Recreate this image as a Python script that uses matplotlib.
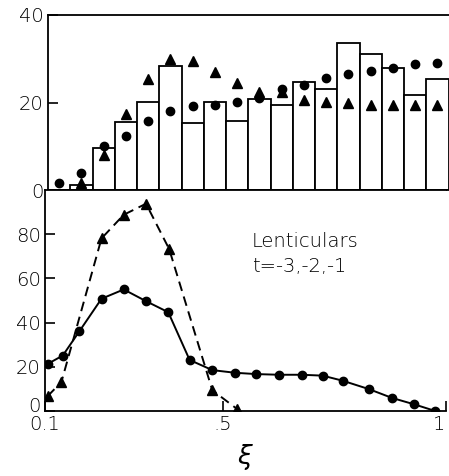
import numpy as np
import matplotlib
matplotlib.use('Agg')
import matplotlib.pyplot as plt
import matplotlib.transforms as mtransforms

# top panel: histogram bins (xi) and the two point series
bin_left = [0.10, 0.15, 0.20, 0.25, 0.30, 0.35, 0.40, 0.45, 0.50,
            0.55, 0.60, 0.65, 0.70, 0.75, 0.80, 0.85, 0.90, 0.95]
bin_height = [0, 1.2, 9.7, 15.6, 20.1, 28.4, 15.3, 20.2, 15.8,
              20.9, 19.4, 24.8, 23.1, 33.6, 31.0, 27.9, 21.7, 25.4]
top_dots = [1.7, 3.9, 10.0, 12.4, 15.8, 18.1, 19.2, 19.5, 20.1,
            21.0, 23.0, 24.1, 25.6, 26.6, 27.3, 28.0, 28.9, 29.1]
top_tri = [np.nan, 1.6, 8.0, 17.4, 25.3, 29.9, 29.5, 27.0, 24.5,
           22.5, 22.3, 20.5, 20.2, 20.0, 19.4, 19.4, 19.4, 19.4]

# bottom panel: solid curve (circles) and dashed curve (triangles)
xi_dots = [0.106, 0.14, 0.177, 0.227, 0.277, 0.327, 0.377, 0.425, 0.476, 0.527,
           0.575, 0.626, 0.677, 0.724, 0.769, 0.828, 0.88, 0.93, 0.977]
val_dots = [21.3, 25.1, 36.0, 50.8, 55.0, 49.7, 44.7, 23.1, 18.5, 17.3,
            16.7, 16.4, 16.4, 16.0, 13.7, 9.9, 5.9, 3.0, 0.0]
xi_tri = [0.106, 0.137, 0.227, 0.277, 0.327, 0.379, 0.476, 0.531]
val_tri = [6.7, 13.2, 78.1, 88.8, 93.8, 73.3, 9.4, 1.0]

label_font = dict(family='DejaVu Sans', fontsize=14, fontweight='light')

W, H = 449, 476
fig = plt.figure(figsize=(W / 100, H / 100), dpi=100)

# axes placed in pixels to follow the reference layout
ax1 = fig.add_axes([48 / W, 1 - 190 / H, 400.5 / W, 175 / H])
ax2 = fig.add_axes([45 / W, 1 - 411 / H, 400.5 / W, 221 / H])

centers = np.array(bin_left) + 0.025
ax1.bar(bin_left, bin_height, width=0.05, align='edge', facecolor='white',
        edgecolor='black', linewidth=1.3, zorder=2)
ax1.plot(centers, top_dots, 'o', color='black', markersize=6, zorder=3)
ax1.plot(centers, top_tri, '^', color='black', markersize=6.5, zorder=3)
ax1.set_xlim(0.1, 1.0)
ax1.set_ylim(0, 40)
ax1.set_yticks([0, 20, 40])
ax1.set_yticklabels(['0', '20', '40'], **label_font)
ax1.set_xticks([])
ax1.spines['right'].set_visible(False)
for s in ['top', 'left', 'bottom']:
    ax1.spines[s].set_linewidth(1.3)
ax1.tick_params(axis='y', direction='in', length=7, width=1.2, pad=3)

ax2.plot(xi_dots, val_dots, '-o', color='black', markersize=6, linewidth=1.4)
ax2.plot(xi_tri, val_tri, '--^', color='black', markersize=6.5, linewidth=1.4,
         dashes=(5, 3))
ax2.set_xlim(0.1, 1.0)
ax2.set_ylim(0, 100)
ax2.set_yticks([0, 20, 40, 60, 80])
ax2.set_yticklabels(['0', '20', '40', '60', '80'], **label_font)
ax2.set_xticks([0.1, 0.5, 1.0])
ax2.set_xticklabels(['0.1', '.5', '1'], **label_font)
ax2.spines['right'].set_visible(False)
for s in ['top', 'left', 'bottom']:
    ax2.spines[s].set_linewidth(1.3)
ax2.tick_params(axis='both', direction='in', length=7, width=1.2, pad=3)
ax2.set_xlabel(r'$\xi$', fontsize=19, labelpad=6)

# lift the bottom "0" a little, keep the "1" inside the figure
lbl0 = ax2.get_yticklabels()[0]
lbl0.set_transform(lbl0.get_transform() + mtransforms.ScaledTranslation(0, 6 / 100, fig.dpi_scale_trans))
ax2.get_xticklabels()[-1].set_horizontalalignment('right')

ax2.text(0.565, 76.5, 'Lenticulars', va='center', ha='left', **label_font)
ax2.text(0.565, 65.2, 't=-3,-2,-1', va='center', ha='left', **label_font)

fig.savefig('out.png', dpi=100)
